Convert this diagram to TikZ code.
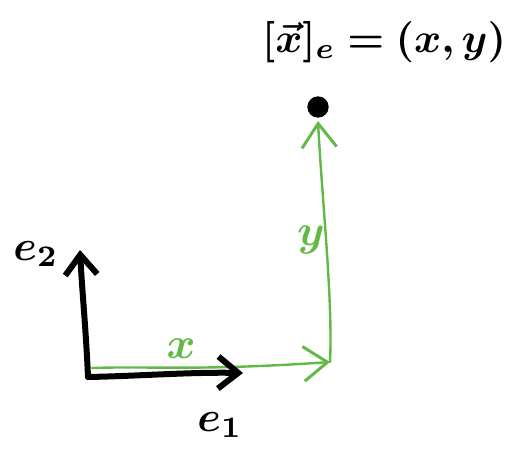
\documentclass[tikz,border=0pt]{standalone}
\usepackage{graphicx}
\usepackage{amsmath,bm}
\usetikzlibrary{arrows.meta}
\definecolor{hgreen}{RGB}{98,186,70}
\begin{document}
\begin{tikzpicture}[x=0.75pt,y=-0.75pt,
  blackvec/.style={line width=4.5pt,line cap=round,line join=round,-{Straight Barb[length=15pt,width=24pt,line width=4.5pt]}},
  greenvec/.style={hgreen,line width=1.8pt,line cap=round,line join=round,-{Straight Barb[length=18pt,width=26pt,line width=2.2pt]}},
  blab/.style={inner sep=0pt},
  glab/.style={text=hgreen,inner sep=0pt}]
\useasboundingbox (0,0) rectangle (523,452);
\coordinate (O) at (88,377);
\coordinate (E1) at (243,373);
\coordinate (E2) at (80,250);
\coordinate (G0) at (92,368);
\coordinate (C) at (330,362);
\coordinate (T) at (318,121);
\node[circle,fill=black,inner sep=0pt,minimum size=16pt] (dot) at (318,107) {};
% green path
\draw[greenvec] (G0) .. controls (150,366) and (200,371) .. (C);
\draw[greenvec] (C) .. controls (333,300) and (322,200) .. (T);
% black basis
\draw[blackvec] (O) .. controls (140,376) and (190,372) .. (E1);
\draw[blackvec] (O) .. controls (86,330) and (82,290) .. (E2);
% labels
\node[blab] (le2) at (36,254) {\scalebox{3.2}{$\bm{e}_{\mathbf 2}$}};
\node[blab] (le1) at (220,425) {\scalebox{3.2}{$\bm{e}_{\mathbf 1}$}};
\node[glab] (lx) at (181,349) {\scalebox{3.3}{$\bm{x}$}};
\node[glab] (ly) at (311,240) {\scalebox{3.3}{$\bm{y}$}};
\node[blab] (title) at (384,42) {\scalebox{3.1}{$\bm{[\vec{x}]_e = (x,y)}$}};
\end{tikzpicture}
\end{document}
